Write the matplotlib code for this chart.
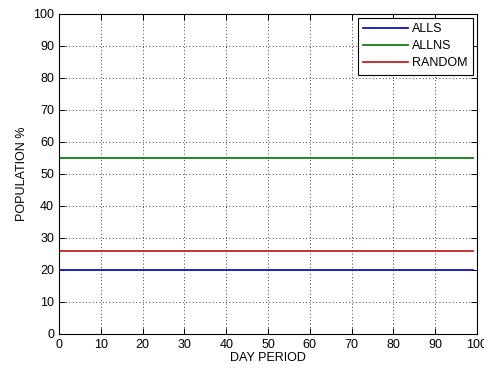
import numpy as np
import matplotlib
matplotlib.use("Agg")
import matplotlib.pyplot as plt

# Chart data
days = np.arange(0, 100)
alls_value = 20
allns_value = 55
random_value = 26

series_names = ["ALLS", "ALLNS", "RANDOM"]
series_colors = ["#1414b4", "#118011", "#c42222"]


def main():
    plt.rcParams["font.family"] = ["Liberation Sans", "DejaVu Sans"]
    fig = plt.figure(figsize=(4.85, 3.70), dpi=100)
    ax = fig.add_axes([59 / 485, 36 / 370, 418 / 485, 320 / 370])

    values = [alls_value, allns_value, random_value]
    for name, val, col in zip(series_names, values, series_colors):
        ax.plot(days, np.full(len(days), val), color=col, linewidth=1.3, label=name)

    ax.set_xlim(0, 100)
    ax.set_ylim(0, 100)
    ax.set_xticks(np.arange(0, 101, 10))
    ax.set_yticks(np.arange(0, 101, 10))
    ax.grid(True, color="black", linestyle=(0, (1, 3)), linewidth=0.6)
    ax.tick_params(direction="in", top=True, right=True, length=4,
                   labelsize=9, colors="black", width=0.7)
    for s in ax.spines.values():
        s.set_linewidth(0.8)

    ax.set_xlabel("DAY PERIOD", fontsize=9, labelpad=1)
    ax.set_ylabel("POPULATION %", fontsize=9, labelpad=4)

    leg = ax.legend(loc="upper right", fontsize=9, fancybox=False,
                    framealpha=1, edgecolor="black", borderaxespad=0.3,
                    handlelength=3.6, handletextpad=0.3, labelspacing=0.4,
                    borderpad=0.45)
    leg.get_frame().set_linewidth(0.8)

    fig.savefig("out.png", dpi=100)


if __name__ == "__main__":
    main()
